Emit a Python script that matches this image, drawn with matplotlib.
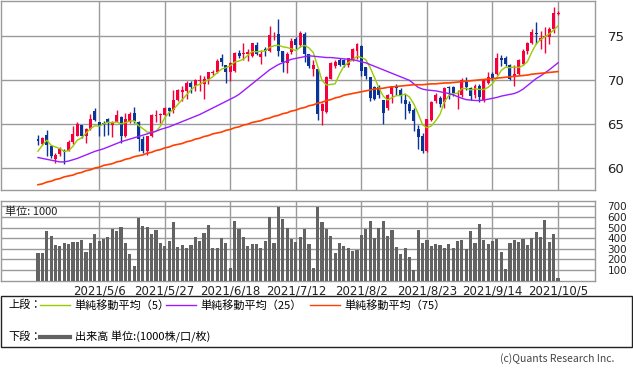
import numpy as np
import pandas as pd
import matplotlib
matplotlib.use("Agg")
import matplotlib.pyplot as plt
from matplotlib.lines import Line2D
from matplotlib.patches import Rectangle

# daily prices, index 0 .. 119 (last = 2021/10/5)
opens = [63.3, 62.8, 63.8, 62.5, 61.0, 61.6, 62.0, 62.0, 63.0, 63.7,
         64.9, 63.6, 64.4, 66.5, 65.2, 65.1, 65.6, 64.9, 65.3, 65.8,
         63.6, 65.3, 66.3, 65.3, 63.3, 62.0, 63.7, 65.9, 66.0, 66.0,
         66.9, 66.6, 67.8, 68.7, 68.8, 69.7, 69.3, 69.9, 69.6, 70.2,
         70.8, 71.0, 72.5, 71.7, 71.0, 71.1, 73.1, 73.0, 73.0, 72.8,
         74.0, 72.7, 73.6, 73.4, 75.0, 75.3, 73.3, 72.0, 73.2, 74.7,
         74.0, 75.3, 73.0, 71.3, 71.3, 66.5, 66.4, 70.2, 71.6, 72.3,
         72.3, 71.7, 72.3, 73.4, 73.9, 71.5, 70.4, 69.2, 69.2, 67.8,
         66.8, 68.4, 69.3, 68.9, 67.8, 67.3, 66.6, 64.5, 63.6, 61.9,
         65.5, 67.7, 68.0, 67.5, 69.2, 69.2, 68.4, 68.3, 69.8, 69.1,
         68.3, 69.3, 67.8, 69.7, 70.7, 70.7, 72.6, 72.6, 71.7, 70.5,
         70.7, 71.9, 73.3, 74.2, 75.4, 74.5, 74.9, 74.9, 75.9, 77.55]
highs = [63.8, 63.5, 64.3, 62.6, 61.7, 62.4, 62.2, 63.2, 64.8, 65.3,
         64.9, 64.6, 66.2, 66.8, 65.2, 65.4, 65.7, 65.4, 66.6, 65.9,
         66.3, 66.4, 67.0, 65.4, 63.6, 63.6, 66.2, 66.6, 66.3, 67.0,
         67.0, 68.9, 69.0, 69.4, 69.9, 69.9, 70.2, 70.6, 70.5, 71.0,
         71.2, 72.4, 73.0, 71.8, 72.1, 73.2, 73.5, 74.2, 73.6, 74.3,
         74.4, 73.5, 73.8, 76.2, 75.5, 77.0, 73.3, 73.2, 74.8, 74.9,
         75.6, 75.5, 73.0, 72.3, 71.3, 67.4, 70.5, 72.1, 72.3, 72.5,
         72.4, 72.6, 73.7, 74.3, 74.0, 71.5, 70.4, 69.3, 69.5, 67.8,
         68.4, 69.4, 69.6, 69.1, 68.4, 67.6, 66.9, 64.9, 64.0, 65.6,
         67.7, 68.5, 68.2, 69.2, 69.4, 69.4, 68.9, 70.3, 70.4, 69.2,
         69.6, 69.6, 70.2, 71.0, 71.0, 73.1, 72.9, 72.8, 71.9, 71.7,
         72.4, 73.6, 74.4, 75.8, 76.7, 75.6, 76.1, 76.1, 78.4, 77.9]
lows = [62.6, 62.6, 61.4, 61.1, 60.6, 61.4, 60.5, 61.9, 62.8, 63.6,
        63.4, 62.9, 64.3, 65.4, 63.7, 63.6, 63.8, 63.5, 65.2, 62.9,
        63.5, 65.1, 65.1, 61.9, 61.7, 61.5, 63.5, 65.3, 65.1, 65.9,
        65.9, 66.3, 67.6, 67.6, 67.9, 68.5, 68.8, 68.8, 67.9, 69.6,
        70.6, 70.8, 71.6, 69.7, 69.9, 71.0, 72.6, 72.3, 72.2, 72.7,
        72.9, 71.9, 72.8, 73.2, 74.6, 72.8, 71.0, 70.8, 73.0, 73.6,
        73.8, 72.1, 71.4, 70.5, 65.5, 64.9, 66.3, 70.1, 71.4, 71.6,
        71.5, 71.5, 72.2, 72.4, 70.5, 70.1, 67.7, 67.8, 68.0, 65.0,
        66.6, 67.4, 68.3, 67.4, 65.6, 66.3, 64.2, 62.2, 61.7, 61.8,
        65.4, 67.4, 67.0, 66.9, 67.9, 68.2, 66.7, 68.1, 68.9, 67.8,
        68.0, 67.5, 67.5, 69.6, 70.0, 70.6, 71.6, 71.6, 70.0, 69.4,
        70.6, 71.8, 73.0, 74.1, 74.1, 73.6, 73.1, 74.1, 75.4, 77.5]
closes = [63.1, 63.4, 62.6, 61.4, 61.5, 62.2, 61.8, 63.0, 63.9, 65.0,
          63.6, 64.4, 65.6, 65.5, 64.8, 64.9, 65.3, 65.3, 66.0, 63.7,
          65.6, 66.2, 65.4, 63.3, 62.0, 63.6, 66.0, 66.0, 66.2, 66.9,
          66.5, 67.8, 68.9, 68.9, 69.7, 69.2, 70.0, 70.0, 70.2, 70.9,
          71.0, 72.2, 72.1, 71.0, 72.0, 73.1, 72.8, 73.1, 73.2, 74.2,
          73.0, 73.0, 73.4, 75.2, 75.1, 73.3, 72.1, 73.0, 74.5, 74.0,
          75.4, 73.0, 71.6, 71.8, 66.2, 67.3, 70.4, 72.0, 72.1, 71.8,
          71.7, 72.5, 73.6, 74.1, 71.1, 70.5, 68.0, 67.9, 68.3, 66.3,
          68.3, 69.3, 69.1, 68.3, 67.3, 66.5, 65.4, 63.5, 62.0, 65.6,
          67.5, 68.3, 67.3, 69.1, 69.1, 68.6, 68.5, 70.0, 69.2, 68.2,
          69.3, 68.1, 70.0, 70.4, 70.3, 72.6, 72.3, 71.9, 70.1, 70.7,
          72.3, 73.4, 74.2, 75.5, 75.3, 74.8, 75.0, 75.9, 77.7, 77.6]
# closes of the 4 days before the window (needed for the 5-day average)
prior_closes = [60.0, 59.7, 64.3, 62.5]

ma25 = [61.2, 61.1, 61.0, 60.9, 60.8, 60.7, 60.7, 60.8, 60.95, 61.1,
        61.3, 61.5, 61.7, 61.9, 62.05, 62.2, 62.4, 62.6, 62.8, 63.0,
        63.15, 63.3, 63.45, 63.6, 63.75, 63.9, 64.05, 64.2, 64.4, 64.55,
        64.7, 64.9, 65.1, 65.3, 65.5, 65.7, 65.9, 66.1, 66.35, 66.6,
        66.85, 67.1, 67.35, 67.6, 67.85, 68.1, 68.4, 68.8, 69.2, 69.6,
        70.0, 70.4, 70.8, 71.2, 71.5, 71.8, 72.0, 72.2, 72.4, 72.5,
        72.6, 72.7, 72.8, 72.75, 72.7, 72.65, 72.6, 72.6, 72.55, 72.5,
        72.45, 72.4, 72.35, 72.25, 72.1, 72.0, 71.8, 71.6, 71.4, 71.2,
        71.0, 70.8, 70.6, 70.4, 70.2, 70.0, 69.6, 69.2, 69.0, 68.9,
        68.85, 68.8, 68.7, 68.6, 68.5, 68.35, 68.15, 67.95, 67.8, 67.75,
        67.7, 67.7, 67.75, 67.85, 67.95, 68.05, 68.2, 68.3, 68.4, 68.5,
        68.7, 69.0, 69.4, 69.8, 70.2, 70.5, 70.85, 71.2, 71.6, 72.0]
ma75 = [58.1, 58.2, 58.4, 58.5, 58.7, 58.8, 59.0, 59.1, 59.2, 59.4,
        59.5, 59.7, 59.8, 60.0, 60.1, 60.3, 60.4, 60.5, 60.7, 60.8,
        61.0, 61.1, 61.3, 61.4, 61.5, 61.7, 61.8, 62.0, 62.1, 62.3,
        62.4, 62.6, 62.7, 62.8, 63.0, 63.1, 63.3, 63.4, 63.6, 63.7,
        63.9, 64.0, 64.1, 64.3, 64.4, 64.6, 64.7, 64.9, 65.0, 65.2,
        65.3, 65.4, 65.6, 65.7, 65.9, 66.0, 66.2, 66.3, 66.5, 66.6,
        66.8, 66.9, 67.1, 67.2, 67.4, 67.5, 67.7, 67.8, 68.0, 68.1,
        68.3, 68.4, 68.5, 68.6, 68.7, 68.8, 68.9, 69.0, 69.06, 69.1,
        69.2, 69.25, 69.3, 69.35, 69.4, 69.45, 69.5, 69.5, 69.5, 69.55,
        69.6, 69.6, 69.65, 69.7, 69.7, 69.75, 69.8, 69.85, 69.9, 69.95,
        70.0, 70.05, 70.1, 70.15, 70.2, 70.25, 70.3, 70.35, 70.4, 70.45,
        70.5, 70.55, 70.6, 70.7, 70.75, 70.8, 70.85, 70.9, 70.95, 71.0]

# volume, unit 1000
volume = [262, 262, 469, 422, 337, 328, 356, 347, 366, 366,
          384, 272, 356, 440, 375, 394, 412, 487, 469, 506,
          356, 253, 141, 590, 515, 506, 440, 478, 356, 328,
          375, 553, 319, 337, 309, 337, 412, 375, 450, 525,
          309, 309, 403, 356, 122, 562, 487, 412, 328, 347,
          347, 309, 375, 600, 356, 694, 581, 497, 394, 366,
          412, 487, 347, 122, 694, 553, 487, 422, 262, 356,
          328, 309, 281, 290, 431, 487, 562, 403, 497, 562,
          422, 478, 319, 253, 309, 225, 103, 478, 356, 384,
          328, 347, 337, 309, 347, 309, 375, 384, 300, 469,
          356, 534, 384, 347, 375, 394, 272, 112, 356, 384,
          366, 394, 337, 403, 459, 412, 572, 366, 440, 28]

tick_pos = [14, 29, 44, 59, 74, 89, 104, 119]
tick_labels = ["2021/5/6", "2021/5/27", "2021/6/18", "2021/7/12",
               "2021/8/2", "2021/8/23", "2021/9/14", "2021/10/5"]

JP = ["Noto Sans CJK JP", "DejaVu Sans"]
RED = "#f5003c"
BLUE = "#0a3596"
C5 = "#99cc00"
C25 = "#9b1cff"
C75 = "#ff4000"
GRID = "#9a9a9a"

W, H = 633, 372
def box(x0, y0, x1, y1):
    return [x0 / W, 1 - y1 / H, (x1 - x0) / W, (y1 - y0) / H]

fig = plt.figure(figsize=(W / 100, H / 100), dpi=100)
ax = fig.add_axes(box(0.5, 0.5, 595, 190))
axv = fig.add_axes(box(0.5, 201, 595, 280.5))

x = np.arange(len(closes))
o = np.array(opens); c = np.array(closes)
up = c >= o
cols = np.where(up, RED, BLUE)

# candles
ax.vlines(x, lows, highs, colors=cols, lw=1, zorder=3)
body_lo = np.minimum(o, c)
body_h = np.maximum(np.abs(c - o), 0.08)
ax.bar(x, body_h, bottom=body_lo, width=0.68, color=cols, lw=0, zorder=4)

# moving averages
allc = pd.Series(prior_closes + closes)
ma5 = allc.rolling(5).mean().values[len(prior_closes):]
ax.plot(x, ma5, color=C5, lw=1, zorder=5)
ax.plot(x, ma25, color=C25, lw=1, zorder=5)
ax.plot(x, ma75, color=C75, lw=1.2, zorder=5)

xlim = ((0.5 - 38) / 4.37, (595 - 38) / 4.37)
ax.set_xlim(*xlim)
ax.set_ylim(57.5, 79.1)
ax.set_xticks(tick_pos)
ax.set_xticklabels([])
ax.set_yticks([60, 65, 70, 75])
ax.yaxis.tick_right()
ax.tick_params(axis="both", length=0)
ax.tick_params(axis="y", pad=9, labelsize=9.5, labelcolor="#222222")
ax.grid(True, color=GRID, lw=1)
ax.set_axisbelow(True)

# volume
axv.bar(x, volume, width=0.72, color="#636363", lw=0, zorder=3)
axv.set_xlim(*xlim)
axv.set_ylim(0, 750)
axv.set_xticks(tick_pos)
axv.set_xticklabels(tick_labels)
axv.set_yticks(range(100, 800, 100))
axv.yaxis.tick_right()
axv.tick_params(axis="both", length=0, labelcolor="#222222")
axv.tick_params(axis="y", pad=9, labelsize=7.5)
axv.tick_params(axis="x", pad=3, labelsize=8.5)
axv.grid(True, color=GRID, lw=1)
axv.set_axisbelow(True)
axv.text(0.008, 0.93, "単位: 1000", transform=axv.transAxes, fontsize=8,
         family=JP, va="top", ha="left", color="#222222")

for a in (ax, axv):
    for s in a.spines.values():
        s.set_color(GRID)
        s.set_linewidth(1)

# legend box
fig.patches.append(Rectangle((1 / W, 1 - 347 / H), 631 / W, 51 / H,
                             transform=fig.transFigure, fill=False,
                             edgecolor="#222222", lw=1))

def fy(y):
    return 1 - y / H

row1, row2 = 305, 337
fig.text(8 / W, fy(row1), "上段：", family=JP, fontsize=8, va="center")
fig.text(8 / W, fy(row2), "下段：", family=JP, fontsize=8, va="center")
items = [(40, C5, "単純移動平均（5）"), (166, C25, "単純移動平均（25）"),
         (310, C75, "単純移動平均（75）")]
for lx, col, lab in items:
    fig.add_artist(Line2D([lx / W, (lx + 30) / W], [fy(row1), fy(row1)],
                          color=col, lw=1, transform=fig.transFigure))
    fig.text((lx + 34) / W, fy(row1), lab, family=JP, fontsize=8, va="center")
fig.add_artist(Line2D([40 / W, 70 / W], [fy(row2), fy(row2)],
                      color="#636363", lw=3, transform=fig.transFigure))
fig.text(75 / W, fy(row2), "出来高 単位:(1000株/口/枚)", family=JP,
         fontsize=8, va="center")

fig.text(614 / W, fy(359), "(c)Quants Research Inc.", family=JP,
         fontsize=7.5, ha="right", va="center", color="#444444")

fig.savefig("out.png", dpi=100)
